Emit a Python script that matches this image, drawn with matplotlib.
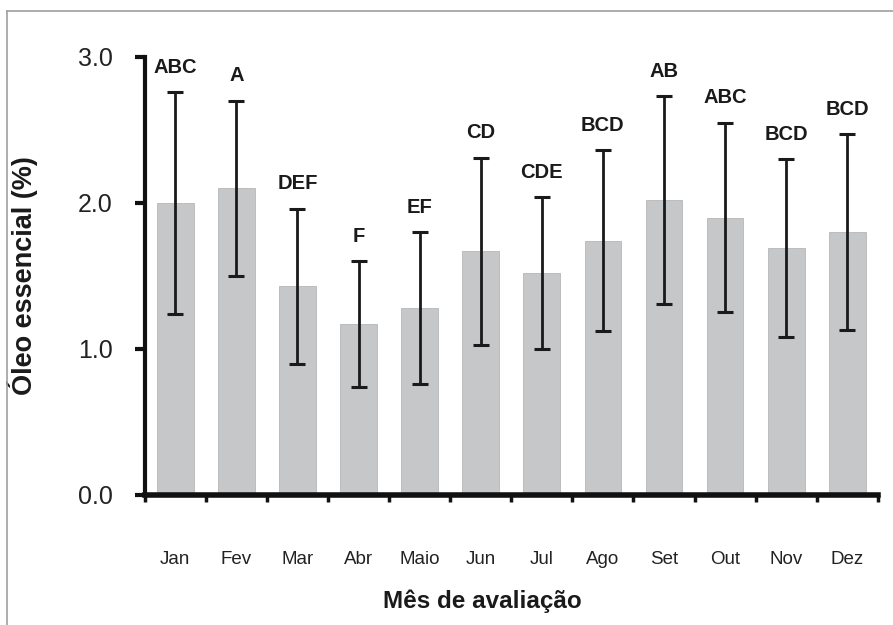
import matplotlib.pyplot as plt
import numpy as np
from matplotlib.lines import Line2D

# Data
months = ["Jan", "Fev", "Mar", "Abr", "Maio", "Jun", "Jul", "Ago", "Set", "Out", "Nov", "Dez"]
oil = [2.00, 2.10, 1.43, 1.17, 1.28, 1.67, 1.52, 1.74, 2.02, 1.90, 1.69, 1.80]
err = [0.76, 0.60, 0.53, 0.43, 0.52, 0.64, 0.52, 0.62, 0.71, 0.65, 0.61, 0.67]
letters = ["ABC", "A", "DEF", "F", "EF", "CD", "CDE", "BCD", "AB", "ABC", "BCD", "BCD"]

font = ["Liberation Sans Narrow", "Liberation Sans", "DejaVu Sans"]

fig = plt.figure(figsize=(8.93, 6.25), dpi=100)
ax = fig.add_axes([0.162, 0.208, 0.821, 0.701])

x = np.arange(len(months))
ax.bar(x, oil, width=0.6, color="#c6c7c9", edgecolor="#b5b6b8", linewidth=0.6, zorder=1)
ax.errorbar(x, oil, yerr=err, fmt="none", ecolor="#1a1a1a", elinewidth=2,
            capsize=6, capthick=2.2, zorder=3)

# significance letters above whiskers
for xi, yi, ei, lab in zip(x, oil, err, letters):
    ax.annotate(lab, (xi, yi + ei), xytext=(0, 11), textcoords="offset points",
                ha="center", va="bottom", fontsize=14.5, fontweight="bold",
                family=font, color="#1a1a1a")

ax.set_xlim(-0.5, len(months) - 0.5)
ax.set_ylim(0, 3.0)
ax.set_yticks([0, 1, 2, 3])
ax.set_yticklabels(["0.0", "1.0", "2.0", "3.0"], family=font, fontsize=18, color="#222222")

# ticks at category edges, labels at centres
ax.set_xticks(np.arange(-0.5, len(months)), minor=False)
ax.set_xticklabels([])
ax.set_xticks(x, minor=True)
ax.set_xticklabels(months, minor=True, family=font, fontsize=13.5, color="#222222")
ax.tick_params(axis="x", which="major", direction="out", length=5, width=2.5, color="#111111")
ax.tick_params(axis="x", which="minor", length=0, pad=40)
ax.tick_params(axis="y", direction="out", length=7, width=3, color="#111111", pad=16)

for side in ["top", "right"]:
    ax.spines[side].set_visible(False)
ax.spines["left"].set_linewidth(3)
ax.spines["bottom"].set_linewidth(4)
ax.spines["left"].set_color("#111111")
ax.spines["bottom"].set_color("#111111")

ax.set_ylabel("Óleo essencial (%)", fontsize=19.5, fontweight="bold", family=font,
              color="#1a1a1a")
ax.yaxis.set_label_coords(-0.145, 0.5)
ax.set_xlabel("Mês de avaliação", fontsize=17.5, fontweight="bold", family=font,
              color="#1a1a1a")
ax.xaxis.set_label_coords(0.461, -0.215)

# thin frame lines at top and left of the figure
fig.add_artist(Line2D([0.008, 1.0], [0.983, 0.983], transform=fig.transFigure,
                      color="#a0a0a0", linewidth=1.2))
fig.add_artist(Line2D([0.008, 0.008], [0.0, 0.983], transform=fig.transFigure,
                      color="#a0a0a0", linewidth=1.2))

fig.savefig("out.png", dpi=100)
